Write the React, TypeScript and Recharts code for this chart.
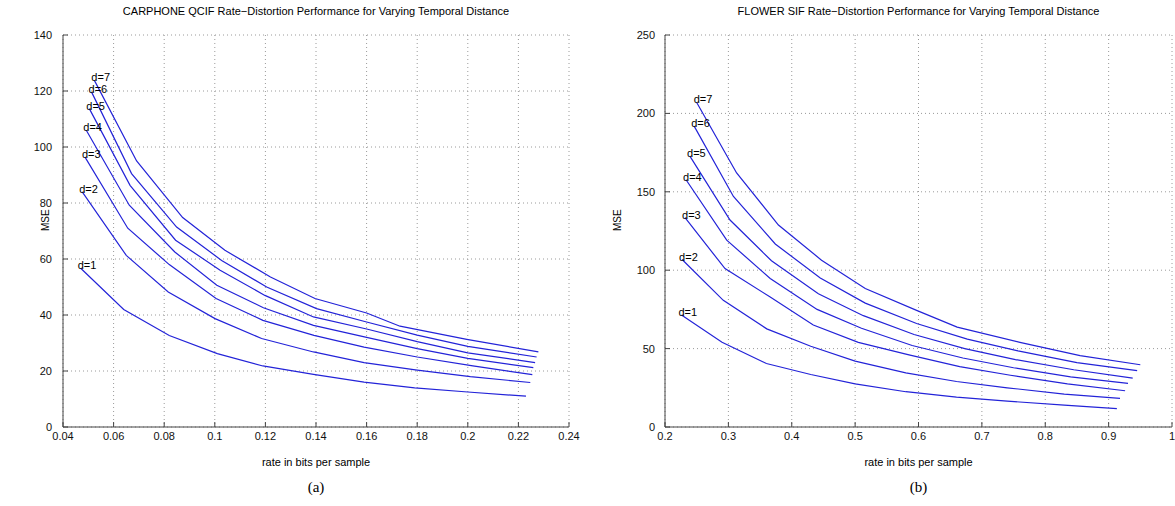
import { LineChart, Line, XAxis, YAxis, CartesianGrid, Label } from 'recharts'

const distances = [1, 2, 3, 4, 5, 6, 7]

// CARPHONE QCIF, one row per temporal distance d
const carphoneRate = [
  [0.047, 0.064, 0.082, 0.101, 0.119, 0.139, 0.159, 0.179, 0.2, 0.223],
  [0.0476, 0.065, 0.0816, 0.1001, 0.1185, 0.139, 0.159, 0.18, 0.201, 0.2247],
  [0.0487, 0.0656, 0.082, 0.1005, 0.119, 0.1392, 0.159, 0.18, 0.202, 0.2255],
  [0.0492, 0.0662, 0.0842, 0.1008, 0.1192, 0.139, 0.16, 0.18, 0.2, 0.2259],
  [0.0504, 0.0665, 0.0845, 0.1021, 0.1198, 0.139, 0.16, 0.18, 0.2, 0.2266],
  [0.0513, 0.0671, 0.0849, 0.1027, 0.1205, 0.1402, 0.16, 0.18, 0.2, 0.2272],
  [0.0524, 0.0691, 0.0873, 0.104, 0.122, 0.1396, 0.16, 0.1732, 0.1996, 0.2279],
]
const carphoneMse = [
  [56.7, 42, 32.7, 26.2, 21.8, 18.8, 16, 14, 12.5, 11],
  [84, 61.3, 48.2, 38.7, 31.6, 26.8, 23, 20.3, 18, 15.9],
  [96.4, 71, 58, 45.9, 38.1, 32.7, 28.5, 25, 21.8, 18.7],
  [106, 79.2, 62.5, 50.6, 42.6, 36.3, 32, 28, 24.5, 21.2],
  [113.7, 86.3, 66.7, 56, 47, 39.3, 35, 30.5, 26.5, 23],
  [119.6, 90.5, 71.4, 59.5, 50, 42.3, 37.5, 32.8, 28.8, 25],
  [123.8, 95, 74.8, 63.1, 53.6, 45.9, 40.7, 36, 31.3, 26.8],
]

// FLOWER SIF
const flowerRate = [
  [0.226, 0.29, 0.36, 0.43, 0.5, 0.58, 0.66, 0.74, 0.83, 0.913],
  [0.227, 0.292, 0.3606, 0.43, 0.5, 0.58, 0.66, 0.74, 0.83, 0.918],
  [0.2316, 0.2947, 0.366, 0.434, 0.505, 0.585, 0.665, 0.745, 0.835, 0.926],
  [0.2332, 0.2974, 0.366, 0.44, 0.51, 0.59, 0.67, 0.75, 0.84, 0.9306],
  [0.2395, 0.3026, 0.368, 0.442, 0.513, 0.593, 0.673, 0.753, 0.845, 0.938],
  [0.246, 0.308, 0.374, 0.445, 0.516, 0.597, 0.677, 0.757, 0.85, 0.945],
  [0.25, 0.313, 0.379, 0.447, 0.516, 0.597, 0.661, 0.76, 0.855, 0.95],
]
const flowerMse = [
  [71.5, 54, 40.5, 33.5, 27.5, 22.5, 19, 16.5, 14, 11.7],
  [106.8, 80.8, 62.6, 51.5, 42, 34.5, 29, 25, 21, 18.2],
  [133.5, 101, 82.9, 65, 54, 46, 38.5, 33, 27.5, 23.1],
  [157.7, 119.2, 94.7, 75, 63, 52, 44, 37.8, 32, 27.8],
  [172.6, 132, 106, 85, 71, 59, 50, 43, 36.5, 31.2],
  [191.9, 147, 116.7, 95, 79, 66, 56, 48.5, 41, 35.9],
  [207, 162, 128.8, 106.4, 88.3, 74.4, 63.7, 54, 45.5, 39.7],
]

const carphoneXTicks = [0.04, 0.06, 0.08, 0.1, 0.12, 0.14, 0.16, 0.18, 0.2, 0.22, 0.24]
const carphoneYTicks = [0, 20, 40, 60, 80, 100, 120, 140]
const flowerXTicks = [0.2, 0.3, 0.4, 0.5, 0.6, 0.7, 0.8, 0.9, 1]
const flowerYTicks = [0, 50, 100, 150, 200, 250]

const font = '"Liberation Sans", Arial, sans-serif'
const lineColor = '#2323d8'
const tickStyle = { fontSize: 11, fill: '#111', fontFamily: font }

const fmt = (v: number) => String(Number(v.toFixed(2)))

function startLabel(text: string) {
  return (props: any) => {
    if (props.index !== 0) return null
    return (
      <text x={props.x - 3} y={props.y + 1} fontSize={11} fontFamily={font} fill="#000">
        {text}
      </text>
    )
  }
}

function Panel({ left, width, yAxisWidth, marginRight, rates, mses, xTicks, yTicks, title, caption, yTickMargin, mseOffset }: any) {
  const plotLeft = yAxisWidth
  const plotRight = width - marginRight
  const center = left + (plotLeft + plotRight) / 2
  return (
    <>
      <div style={{ position: 'absolute', left: center - 300, width: 600, top: 5, textAlign: 'center', fontFamily: font, fontSize: 11, color: '#000' }}>
        {title}
      </div>
      <div style={{ position: 'absolute', left: left, top: 0 }}>
        <LineChart width={width} height={506} margin={{ top: 35, right: marginRight, bottom: 49, left: 0 }}>
          <CartesianGrid stroke="#9a9a9a" strokeDasharray="1 3" />
          <XAxis
            type="number"
            dataKey="rate"
            domain={[xTicks[0], xTicks[xTicks.length - 1]]}
            ticks={xTicks}
            tickFormatter={fmt}
            allowDataOverflow
            height={30}
            tickSize={-5}
            tickMargin={10}
            stroke="#444"
            tick={tickStyle}
            interval={0}
          />
          <YAxis
            type="number"
            domain={[yTicks[0], yTicks[yTicks.length - 1]]}
            ticks={yTicks}
            width={yAxisWidth}
            tickSize={-5}
            tickMargin={yTickMargin}
            stroke="#444"
            tick={tickStyle}
            interval={0}
          >
            <Label value="MSE" angle={-90} position="insideLeft" offset={mseOffset} style={{ fontSize: 10, fontFamily: font, fill: '#000' }} />
          </YAxis>
          {distances.map((d, i) => (
            <Line
              key={d}
              data={rates[i].map((r: number, j: number) => ({ rate: r, mse: mses[i][j] }))}
              dataKey="mse"
              stroke={lineColor}
              strokeWidth={1.2}
              dot={false}
              isAnimationActive={false}
              label={startLabel('d=' + d)}
            />
          ))}
        </LineChart>
      </div>
      <div style={{ position: 'absolute', left: center - 150, width: 300, top: 456, textAlign: 'center', fontFamily: '"Liberation Sans Narrow", "Liberation Sans", sans-serif', fontSize: 11, color: '#000' }}>
        rate in bits per sample
      </div>
      <div style={{ position: 'absolute', left: center - 50, width: 100, top: 479, textAlign: 'center', fontFamily: '"Liberation Serif", serif', fontSize: 15, color: '#000' }}>
        {caption}
      </div>
    </>
  )
}

export default function App() {
  return (
    <div style={{ position: 'absolute', left: 0, top: 0, width: 1175, height: 506, background: '#fff' }}>
      <Panel
        left={0}
        width={590}
        yAxisWidth={63}
        marginRight={21}
        rates={carphoneRate}
        mses={carphoneMse}
        xTicks={carphoneXTicks}
        yTicks={carphoneYTicks}
        yTickMargin={16}
        mseOffset={45}
        title="CARPHONE QCIF Rate−Distortion Performance for Varying Temporal Distance"
        caption="(a)"
      />
      <Panel
        left={590}
        width={585}
        yAxisWidth={75}
        marginRight={3}
        rates={flowerRate}
        mses={flowerMse}
        xTicks={flowerXTicks}
        yTicks={flowerYTicks}
        yTickMargin={15}
        mseOffset={27}
        title="FLOWER SIF Rate−Distortion Performance for Varying Temporal Distance"
        caption="(b)"
      />
    </div>
  )
}
